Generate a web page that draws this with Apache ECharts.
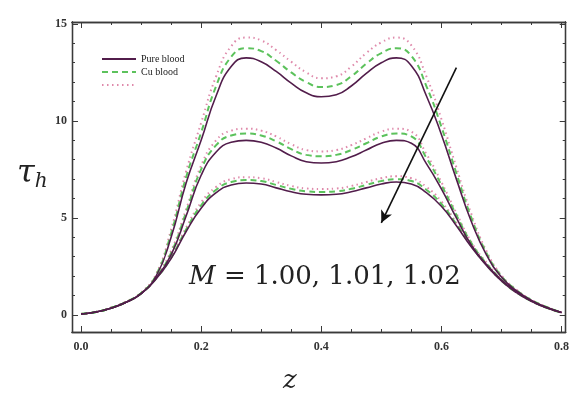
<!DOCTYPE html>
<html><head><meta charset="utf-8">
<script src="https://cdn.jsdelivr.net/npm/echarts@6/dist/echarts.min.js"></script>
<style>html,body{margin:0;padding:0;background:#fff}#c{width:572px;height:402px}</style>
</head><body><div id="c"></div>
<script>
var zValues = [0,0.025,0.05,0.075,0.1,0.125,0.15,0.175,0.2,0.225,0.25,0.275,0.3,0.325,0.35,0.375,0.4,0.425,0.45,0.475,0.5,0.525,0.55,0.575,0.6,0.625,0.65,0.675,0.7,0.725,0.75,0.775,0.8];

// M = 1.00 (top group)
var pureM100 = [0.05,0.15,0.35,0.65,1.1,2.0,4.0,6.8,9.0,11.3,12.8,13.25,13.05,12.55,11.95,11.45,11.25,11.35,11.8,12.45,13.0,13.25,12.85,11.3,9.3,7.0,4.8,3.1,1.95,1.25,0.75,0.4,0.12];
var cuM100   = [0.05,0.15,0.36,0.67,1.12,2.05,4.2,7.1,9.4,11.8,13.3,13.75,13.6,13.1,12.5,12.0,11.75,11.85,12.3,12.95,13.5,13.75,13.35,11.8,9.7,7.3,5.0,3.2,2.0,1.28,0.77,0.41,0.12];
var dotM100  = [0.05,0.15,0.37,0.69,1.15,2.1,4.4,7.4,9.9,12.3,13.85,14.3,14.15,13.65,13.05,12.5,12.2,12.3,12.8,13.5,14.05,14.3,13.9,12.3,10.1,7.6,5.2,3.3,2.05,1.3,0.78,0.42,0.12];

// M = 1.01 (middle group)
var pureM101 = [0.05,0.15,0.35,0.65,1.1,1.9,3.1,5.1,7.2,8.4,8.9,9.0,8.9,8.6,8.2,7.9,7.83,7.9,8.15,8.5,8.85,9.0,8.85,7.8,6.5,5.0,3.6,2.6,1.8,1.2,0.72,0.38,0.12];
var cuM101   = [0.05,0.15,0.36,0.66,1.12,1.95,3.2,5.3,7.5,8.75,9.25,9.35,9.25,8.95,8.55,8.25,8.18,8.25,8.5,8.85,9.2,9.35,9.2,8.1,6.7,5.15,3.7,2.65,1.82,1.22,0.73,0.39,0.12];
var dotM101  = [0.05,0.15,0.37,0.67,1.14,2.0,3.3,5.45,7.7,9.0,9.5,9.6,9.5,9.2,8.8,8.5,8.43,8.5,8.75,9.1,9.45,9.6,9.45,8.3,6.85,5.25,3.75,2.7,1.85,1.23,0.74,0.39,0.12];

// M = 1.02 (bottom group)
var pureM102 = [0.05,0.15,0.35,0.65,1.1,1.85,2.9,4.3,5.5,6.3,6.7,6.8,6.75,6.55,6.35,6.22,6.19,6.22,6.35,6.55,6.75,6.85,6.75,6.3,5.6,4.6,3.5,2.55,1.75,1.15,0.7,0.37,0.12];
var cuM102   = [0.05,0.15,0.36,0.66,1.11,1.88,2.95,4.4,5.65,6.45,6.85,6.95,6.9,6.7,6.5,6.37,6.34,6.37,6.5,6.7,6.9,7.0,6.9,6.45,5.72,4.68,3.55,2.58,1.77,1.16,0.71,0.37,0.12];
var dotM102  = [0.05,0.15,0.37,0.67,1.12,1.9,3.0,4.5,5.8,6.6,7.0,7.1,7.05,6.85,6.65,6.52,6.49,6.52,6.65,6.85,7.05,7.15,7.05,6.6,5.85,4.75,3.6,2.6,1.78,1.17,0.71,0.37,0.12];

var xMajor = [0,0.2,0.4,0.6,0.8];
var xMinor = [0.05,0.1,0.15,0.25,0.3,0.35,0.45,0.5,0.55,0.65,0.7,0.75];
var yMajor = [0,5,10,15];
var yMinor = [1,2,3,4,6,7,8,9,11,12,13,14];
var legendNames = ['Pure blood','Cu blood',' '];

function pairs(arr){ return zValues.map(function(z,i){ return [z, arr[i]]; }); }

var cPure = '#521d4b', cCu = '#5cc25c', cDot = '#df8aab';
var AX = '#3a3a3a';
var XMIN = -0.015, XMAX = 0.807, YMIN = -0.88, YMAX = 15.1;

function xAx(pos, vals, len, labels){
  return {type:'value', position:pos, min:XMIN, max:XMAX, splitLine:{show:false},
    axisLine:{show:true, onZero:false, lineStyle:{color:AX, width:1.3}},
    axisTick:{show:true, inside:true, length:len, customValues:vals, lineStyle:{color:AX,width:1}},
    axisLabel:{show:labels, customValues:vals, margin:9, color:'#333', fontFamily:'Liberation Serif', fontWeight:'bold', fontSize:12,
      formatter:function(v){return v.toFixed(1);}}};
}
function yAx(pos, vals, len, labels){
  return {type:'value', position:pos, min:YMIN, max:YMAX, splitLine:{show:false},
    axisLine:{show:true, onZero:false, lineStyle:{color:AX, width:1.3}},
    axisTick:{show:true, inside:true, length:len, customValues:vals, lineStyle:{color:AX,width:1}},
    axisLabel:{show:labels, customValues:vals, margin:5, color:'#333', fontFamily:'Liberation Serif', fontWeight:'bold', fontSize:12}};
}

function ser(name, data, color, type, width, z, extra){
  var s = {name:name, type:'line', data:pairs(data), xAxisIndex:0, yAxisIndex:0, smooth:true, showSymbol:false, symbol:'none',
    lineStyle:{color:color, width:width, type:type}, itemStyle:{color:color}, z:z, silent:true};
  if (extra) for (var k in extra) s[k]=extra[k];
  return s;
}
var dotType = [1.5,3.5];
var series = [
  ser(legendNames[2], dotM100, cDot, dotType, 2, 2),
  ser(legendNames[2], dotM101, cDot, dotType, 2, 2),
  ser(legendNames[2], dotM102, cDot, dotType, 2, 2),
  ser(legendNames[1], cuM100, cCu, [6,4], 2, 3),
  ser(legendNames[1], cuM101, cCu, [6,4], 2, 3),
  ser(legendNames[1], cuM102, cCu, [6,4], 2, 3),
  ser(legendNames[0], pureM100, cPure, 'solid', 1.6, 4, {
    markLine:{silent:true, symbol:['none','arrow'], symbolSize:[9,12], label:{show:false},
      lineStyle:{color:'#111', width:1.6, type:'solid'},
      data:[[{coord:[0.625,12.75]},{coord:[0.5,4.75]}]]}}),
  ser(legendNames[0], pureM101, cPure, 'solid', 1.6, 4),
  ser(legendNames[0], pureM102, cPure, 'solid', 1.6, 4)
];

var chart = echarts.init(document.getElementById('c'), null, {renderer:'canvas'});
chart.setOption({
  animation:false,
  backgroundColor:'#fff',
  grid:{left:72, top:22, right:5, bottom:70, containLabel:false},
  xAxis:[xAx('bottom', xMajor, 6, true), xAx('bottom', xMinor, 3, false), xAx('top', xMajor, 6, false), xAx('top', xMinor, 3, false)],
  yAxis:[yAx('left', yMajor, 6, true), yAx('left', yMinor, 3, false), yAx('right', yMajor, 6, false), yAx('right', yMinor, 3, false)],
  legend:{data:legendNames, orient:'vertical', left:96, top:49, itemWidth:34, itemHeight:8, itemGap:3,
    itemStyle:{opacity:0},
    textStyle:{fontFamily:'Liberation Serif', fontSize:10, color:'#222'}},
  graphic:[
    {type:'text', left:189, top:264, style:{text:'{i|M} = 1.00, 1.01, 1.02', fill:'#222',
      rich:{i:{fontFamily:'DejaVu Serif', fontStyle:'italic', fontSize:26, fill:'#222'}},
      fontFamily:'DejaVu Serif', fontSize:26}},
    {type:'text', left:17, top:158, style:{text:'{t|τ}{h|h}', rich:{
      t:{fontFamily:'DejaVu Serif', fontStyle:'italic', fontSize:32, fill:'#222'},
      h:{fontFamily:'DejaVu Serif', fontStyle:'italic', fontSize:20, fill:'#222', padding:[15,0,0,0]}}}},
    {type:'text', left:283, top:368, style:{text:'z', fontFamily:'DejaVu Serif', fontStyle:'italic', fontSize:26, fill:'#222'}}
  ],
  series:series
});
</script></body></html>
